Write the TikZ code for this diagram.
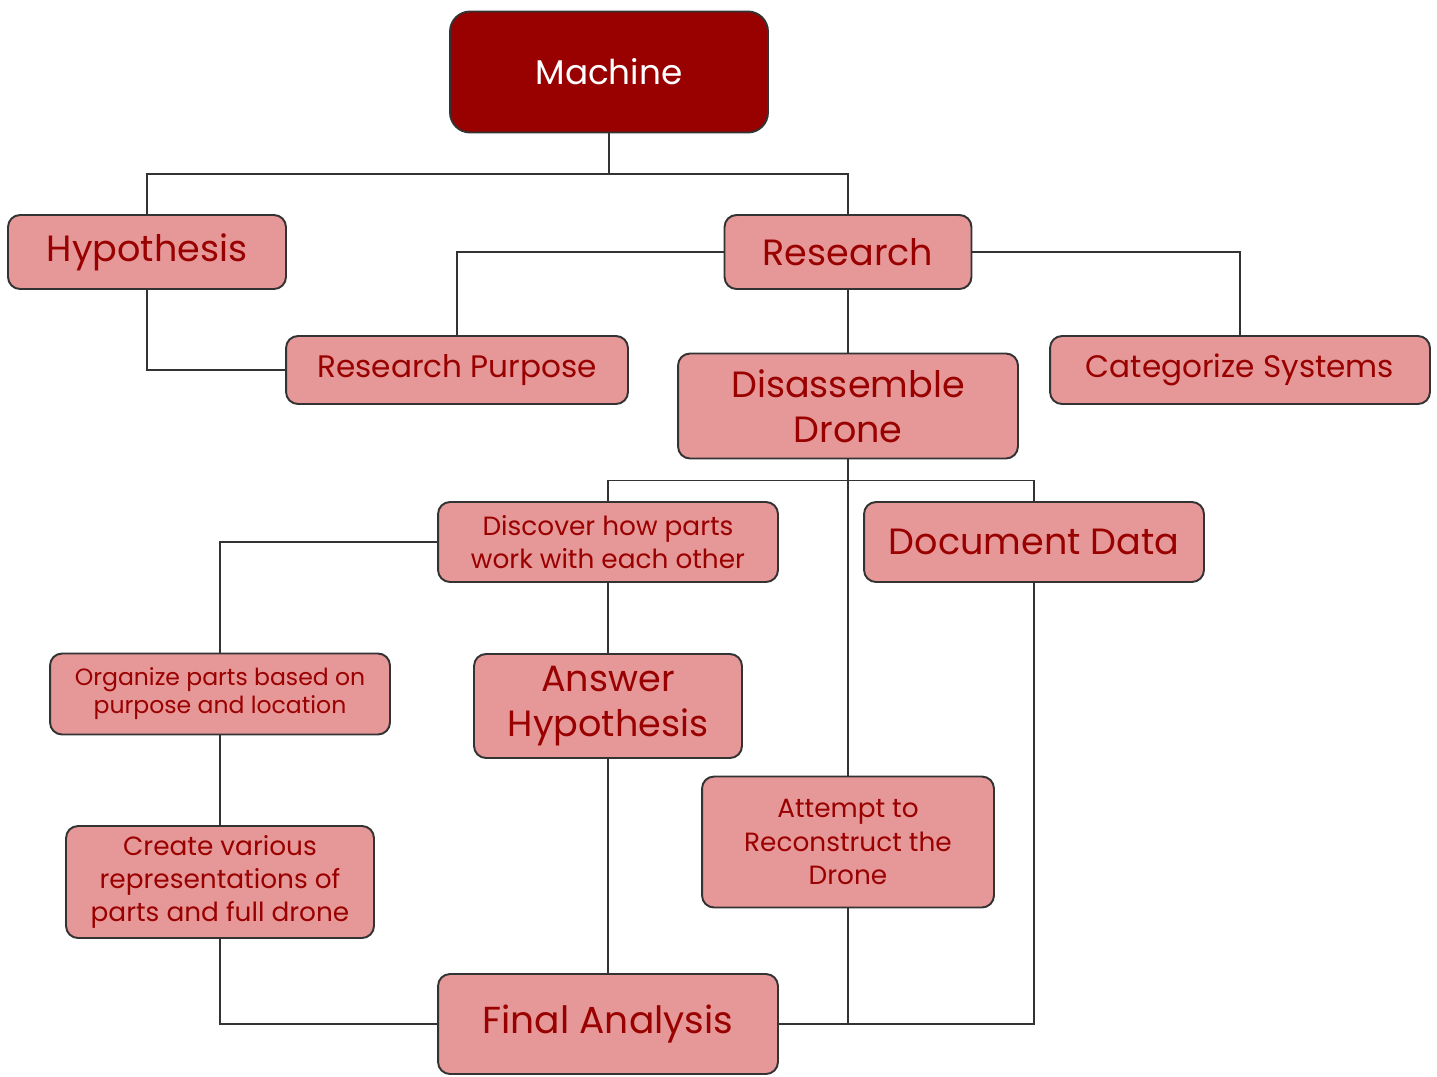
\documentclass[tikz,border=0pt]{standalone}
\usepackage{fontspec}
\setmainfont{Poppins}
\usetikzlibrary{positioning}
\definecolor{boxred}{HTML}{E69798}
\definecolor{darkred}{HTML}{990000}
\definecolor{edge}{HTML}{333333}

\begin{document}
\begin{tikzpicture}[x=0.02cm,y=-0.02cm,line width=1.1pt,
  every node/.style={draw=edge,rounded corners=0.24cm,fill=boxred,text=darkred,align=center,inner sep=0pt},
  big/.style={font=\fontsize{20.8}{25.6}\selectfont},
  mid/.style={font=\fontsize{17.7}{20}\selectfont},
  small/.style={font=\fontsize{15}{18.8}\selectfont}]
\useasboundingbox (0,0) rectangle (1437,1076);
\node[fill=darkred,text=white,rounded corners=0.4cm,minimum width=6.36cm,minimum height=2.42cm,font=\fontsize{19.5}{24}\selectfont](machine) at (609,72){Machine};
\node[big,minimum width=5.56cm,minimum height=1.48cm](hyp) at (147,252){Hypothesis};
\node[big,minimum width=4.94cm,minimum height=1.48cm](research) at (848,252){Research};
\node[mid,minimum width=6.84cm,minimum height=1.36cm](purpose) at (457,370){Research Purpose};
\node[big,minimum width=6.8cm,minimum height=2.1cm](disasm) at (848,406){Disassemble\\Drone};
\node[mid,minimum width=7.6cm,minimum height=1.36cm](categ) at (1240,370){Categorize Systems};
\node[small,minimum width=6.8cm,minimum height=1.6cm](discover) at (608,542){Discover how parts\\work with each other};
\node[big,minimum width=6.8cm,minimum height=1.6cm](docdata) at (1034,542){Document Data};
\node[small,font=\fontsize{13.4}{16}\selectfont,minimum width=6.8cm,minimum height=1.62cm](organize) at (220,694){Organize parts based on\\purpose and location};
\node[big,minimum width=5.36cm,minimum height=2.08cm](answer) at (608,706){Answer\\Hypothesis};
\node[small,minimum width=5.84cm,minimum height=2.62cm](attempt) at (848,842){Attempt to\\Reconstruct the\\Drone};
\node[small,minimum width=6.16cm,minimum height=2.24cm](create) at (220,882){Create various\\representations of\\parts and full drone};
\node[big,font=\fontsize{21.4}{25.6}\selectfont,minimum width=6.8cm,minimum height=2cm](final) at (608,1024){Final Analysis};
% tree lines
\draw[edge](machine.south)--++(0,41)coordinate(mj)-|(hyp.north);\draw[edge](mj)-|(research.north);
\draw[edge](hyp.south)|-(purpose.west);\draw[edge](research.west)-|(purpose.north);\draw[edge](research.east)-|(categ.north);
\draw[edge](research)--(disasm);
\draw[edge](disasm.south)--++(0,21)coordinate(dj)-|(discover.north);\draw[edge](dj)-|(docdata.north);
\draw[edge](disasm.south)--(attempt.north);
\draw[edge](discover.west)-|(organize.north);\draw[edge](discover)--(answer);\draw[edge](organize)--(create);
\draw[edge](create.south)|-(final.west);\draw[edge](answer)--(final);
\draw[edge](attempt.south)|-(final.east);\draw[edge](docdata.south)|-(final.east);
\end{tikzpicture}
\end{document}
